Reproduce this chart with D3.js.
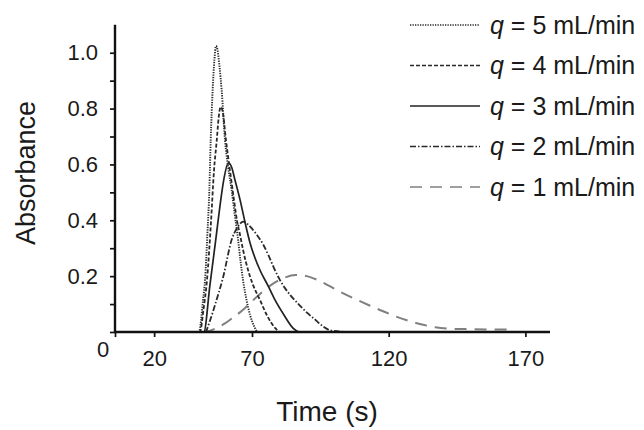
<!DOCTYPE html>
<html>
<head>
<meta charset="utf-8">
<script src="https://cdn.jsdelivr.net/npm/d3@7"></script>
<style>
  html, body { margin: 0; padding: 0; background: #fff; }
  svg { display: block; font-family: "Liberation Sans", Arial, sans-serif; }
</style>
</head>
<body>
<svg id="chart" width="644" height="430"></svg>
<script>
// Elution profiles: time (s) vs absorbance for five flow rates
const seriesNames = ["q = 5 mL/min", "q = 4 mL/min", "q = 3 mL/min", "q = 2 mL/min", "q = 1 mL/min"];
const flowRates = [5, 4, 3, 2, 1];

const timeQ5 = [40, 42.9, 45, 46, 47.2, 48.2, 48.9, 49.9, 50.8, 51.6, 52.4, 53.4, 54.5, 56.2, 57.8, 59.6, 61.2, 62.9, 64.2, 65.4, 67.2, 69, 70.8, 72.2, 75];
const absQ5  = [0, 0, 0.115, 0.186, 0.35, 0.508, 0.687, 0.866, 0.975, 1.024, 1.01, 0.95, 0.866, 0.687, 0.59, 0.508, 0.42, 0.33, 0.25, 0.186, 0.115, 0.061, 0.02, 0, 0];

const timeQ4 = [40, 43.4, 45.2, 47, 49.1, 50.6, 52, 53, 54, 55, 56.7, 58.7, 60.8, 62.3, 63.9, 65.4, 66.9, 68.7, 70.4, 72.9, 75.6, 78.5, 80.3, 82];
const absQ4  = [0, 0, 0.08, 0.186, 0.40, 0.58, 0.687, 0.77, 0.806, 0.79, 0.687, 0.58, 0.473, 0.40, 0.347, 0.295, 0.25, 0.205, 0.168, 0.115, 0.057, 0.014, 0, 0];

const timeQ3 = [40, 45.4, 48.5, 51.6, 53.6, 55.7, 57.9, 59.6, 61.3, 63.9, 66.4, 69, 71.1, 72.9, 75.9, 78.4, 81.7, 85, 87.6, 90];
const absQ3  = [0, 0, 0.168, 0.337, 0.45, 0.55, 0.606, 0.59, 0.544, 0.473, 0.394, 0.319, 0.265, 0.222, 0.165, 0.115, 0.061, 0.014, 0, 0];

const timeQ2 = [40, 46, 48.5, 51.1, 55.3, 59.6, 62.3, 65.6, 68, 70, 72, 74, 76, 78, 80, 82, 84, 87, 90, 93, 96, 99, 105];
const absQ2  = [0, 0, 0.04, 0.097, 0.198, 0.33, 0.372, 0.395, 0.385, 0.37, 0.345, 0.315, 0.275, 0.23, 0.19, 0.158, 0.132, 0.10, 0.07, 0.045, 0.02, 0.005, 0];

const timeQ1 = [45, 48, 52, 56, 60, 65, 70, 74, 78, 82, 86, 90, 94, 98.6, 103, 108.5, 113, 117, 122, 128, 133, 137, 142, 150, 157, 164.5];
const absQ1  = [0, 0.004, 0.015, 0.03, 0.05, 0.077, 0.11, 0.145, 0.175, 0.195, 0.204, 0.2, 0.186, 0.163, 0.14, 0.115, 0.095, 0.078, 0.058, 0.038, 0.025, 0.017, 0.012, 0.01, 0.009, 0.009];

const xTickValues = [20, 70, 120, 170];
const yTickValues = [0, 0.1, 0.2, 0.3, 0.4, 0.5, 0.6, 0.7, 0.8, 0.9, 1.0];
const yTickLabels = [0.2, 0.4, 0.6, 0.8, 1.0];

const series = [
  { name: seriesNames[0], q: flowRates[0], t: timeQ5, a: absQ5, dash: "1.3,1.2", color: "#2a2a2a", width: 1.9 },
  { name: seriesNames[1], q: flowRates[1], t: timeQ4, a: absQ4, dash: "4,2",     color: "#2a2a2a", width: 1.8 },
  { name: seriesNames[2], q: flowRates[2], t: timeQ3, a: absQ3, dash: null,      color: "#222",    width: 1.7 },
  { name: seriesNames[3], q: flowRates[3], t: timeQ2, a: absQ2, dash: "6,2,1.5,2", color: "#2a2a2a", width: 1.8 },
  { name: seriesNames[4], q: flowRates[4], t: timeQ1, a: absQ1, dash: "12,8",    color: "#808080", width: 2 }
];

const svg = d3.select("#chart");

// Time axis has a compressed first segment (0–70 s), then a wider one
const x = d3.scaleLinear().domain([0, 70, 179]).range([115, 252, 550]);
const y = d3.scaleLinear().domain([0, 1.1]).range([332, 24.8]);

const line = d3.line()
  .x(d => x(d[0]))
  .y(d => y(d[1]))
  .curve(d3.curveMonotoneX);

// Curves
const plot = svg.append("g");
series.slice().reverse().forEach(s => {
  const pts = s.t.map((t, i) => [t, s.a[i]]);
  plot.append("path")
    .attr("d", line(pts))
    .attr("fill", "none")
    .attr("stroke", s.color)
    .attr("stroke-width", s.width)
    .attr("stroke-dasharray", s.dash);
});

// Axes
const yAxis = d3.axisLeft(y)
  .tickValues(yTickValues)
  .tickSize(5)
  .tickFormat(d => yTickLabels.some(v => Math.abs(v - d) < 1e-9) ? d3.format(".1f")(d) : "");
const yg = svg.append("g").attr("transform", `translate(${x(0)},0)`).call(yAxis);
yg.select(".domain").attr("d", `M0,${y(1.1)}V${y(0)}`);

const xAxis = d3.axisBottom(x)
  .tickValues([0].concat(xTickValues))
  .tickSize(5)
  .tickFormat(d => d === 0 ? "" : d);
const xg = svg.append("g").attr("transform", `translate(0,${y(0)})`).call(xAxis);
xg.select(".domain").attr("d", `M${x(0)},0H${x(179)}`);

[yg, xg].forEach(g => {
  g.select(".domain").attr("stroke", "#111").attr("stroke-width", 2.4);
  g.selectAll(".tick line").attr("stroke", "#111").attr("stroke-width", 1.7);
  g.selectAll(".tick text")
    .attr("fill", "#1a1a1a")
    .style("font-size", "22px")
    .style("font-family", "'Liberation Sans', Arial, sans-serif");
});
yg.selectAll(".tick text").attr("x", -17);
xg.selectAll(".tick text").attr("y", 18);

// Shared origin label
svg.append("text")
  .attr("x", 103).attr("y", 357)
  .attr("text-anchor", "middle")
  .attr("fill", "#1a1a1a")
  .style("font-size", "22px")
  .text("0");

// Axis titles
svg.append("text")
  .attr("x", 327).attr("y", 421)
  .attr("text-anchor", "middle")
  .attr("fill", "#1a1a1a")
  .style("font-size", "28px")
  .text("Time (s)");

svg.append("text")
  .attr("transform", "translate(35,173) rotate(-90)")
  .attr("text-anchor", "middle")
  .attr("fill", "#1a1a1a")
  .style("font-size", "27px")
  .text("Absorbance");

// Legend
const legend = svg.append("g");
series.forEach((s, i) => {
  const cy = 25 + i * 40.5;
  legend.append("line")
    .attr("x1", 410).attr("x2", 480)
    .attr("y1", cy).attr("y2", cy)
    .attr("stroke", s.color)
    .attr("stroke-width", s.width * 0.8)
    .attr("stroke-dasharray", s.dash);
  const txt = legend.append("text")
    .attr("x", 490).attr("y", cy + 8.5)
    .attr("fill", "#1a1a1a")
    .style("font-size", "25px");
  txt.append("tspan").style("font-style", "italic").text("q");
  txt.append("tspan").text(" = " + s.q + " mL/min");
});
</script>
</body>
</html>
